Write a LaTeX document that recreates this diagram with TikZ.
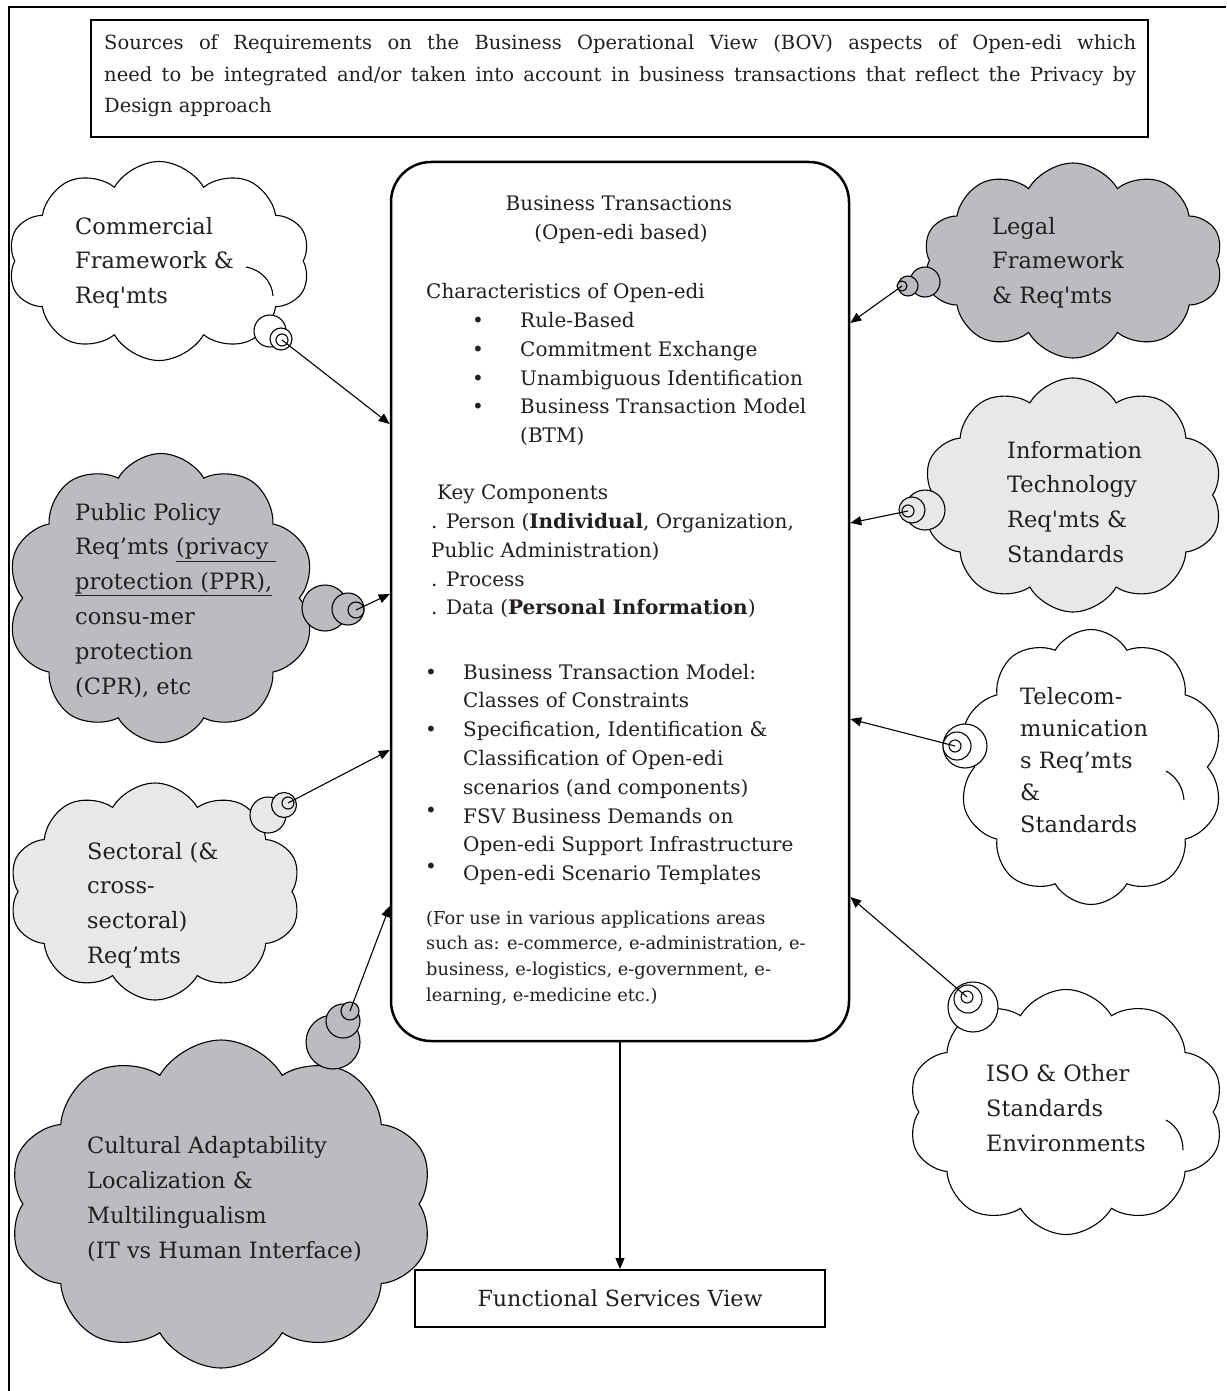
\documentclass[tikz,border=0pt]{standalone}
\usepackage{fontspec}
\setmainfont{DejaVu Serif}
\usetikzlibrary{shapes.symbols,arrows.meta}
\definecolor{dgray}{RGB}{187,188,191}
\definecolor{lgray}{RGB}{231,232,233}
\definecolor{ink}{RGB}{35,31,32}
\newcommand\fmain{\fontsize{20}{24}\selectfont}
\newcommand\fcloud{\fontsize{22.5}{27}\selectfont}
\newcommand\fsmall{\fontsize{17.8}{21}\selectfont}
\newcommand\ftop{\fontsize{19.5}{23}\selectfont}
\newcommand\ffsv{\fontsize{22.2}{26}\selectfont}
\begin{document}
\begin{tikzpicture}[x=1pt,y=-1pt,
  cl/.style={cloud, draw, line width=1.1pt, cloud puffs=10, cloud puff arc=120, cloud ignores aspect, inner sep=0pt},
  bub/.style={circle, draw, line width=1.1pt, inner sep=0pt},
  arr/.style={line width=1.1pt, -{Triangle[length=11pt,width=9pt]}},
  inarc/.style={line width=1.1pt},
  ct/.style={anchor=base west, inner sep=0pt, font=\fcloud, text=ink},
  mt/.style={anchor=base west, inner sep=0pt, font=\fmain, text=ink},
  st/.style={anchor=base west, inner sep=0pt, font=\fsmall, text=ink},
  tt/.style={anchor=base west, inner sep=0pt, font=\ftop, text=ink},
  bl/.style={anchor=base, inner sep=0pt, font=\fmain, text=ink}]
\useasboundingbox (0,0) rectangle (1226,1391);
\fill[white] (0,0) rectangle (1226,1391);
\draw[line width=1.3pt] (1226,7) -- (9,7) -- (9,1391);

% top box
\node[draw, line width=2pt, minimum width=1057pt, minimum height=117pt, inner sep=0pt] (topbox) at (619.5,78.5) {};
\node[tt] (top1) at (104,50) {\makebox[1032pt][s]{Sources of Requirements on the Business Operational View (BOV) aspects of Open-edi which}};
\node[tt] (top2) at (104,81.5) {\makebox[1032pt][s]{need to be integrated and/or taken into account in business transactions that reflect the Privacy by}};
\node[tt] (top3) at (104,113) {Design approach};

% central box
\node[draw, line width=2.5pt, rounded corners=40pt, minimum width=458pt, minimum height=879pt, inner sep=0pt] (bt) at (620,601.5) {};
\node[bl] (h1) at (619,210) {Business Transactions};
\node[bl] (h2) at (621,239) {(Open-edi based)};
\node[mt] (ch) at (426,298) {Characteristics of Open-edi};
\foreach \t/\y [count=\i] in {Rule-Based/327, Commitment Exchange/356, Unambiguous Identification/385, Business Transaction Model/413}{
  \node[bl] (cb\i) at (478,\y) {\textbullet};
  \node[mt] (ci\i) at (520,\y) {\t};
}
\node[mt] (ci5) at (520,442) {(BTM)};
\node[mt] (kc) at (437,499) {Key Components};
\node[mt] (k1) at (431,528) {. Person (\textbf{Individual}, Organization,};
\node[mt] (k2) at (431,557) {Public Administration)};
\node[mt] (k3) at (431,586) {. Process};
\node[mt] (k4) at (431,614) {. Data (\textbf{Personal Information})};
\foreach \t/\y [count=\i] in {Business Transaction Model:/679, Classes of Constraints/707, {Specification, Identification \&}/736, Classification of Open-edi/765, scenarios (and components)/794, FSV Business Demands on/823, Open-edi Support Infrastructure/851, Open-edi Scenario Templates/880}{
  \node[mt] (bi\i) at (463,\y) {\t};
}
\foreach \y [count=\i] in {679,736,817,873}{
  \node[bl] (bb\i) at (431,\y) {\textbullet};
}
\foreach \t/\y [count=\i] in {{(For use in various applications areas}/924, {such as: e-commerce, e-administration, e-}/949, {business, e-logistics, e-government, e-}/975, {learning, e-medicine etc.)}/1001}{
  \node[st] (sm\i) at (426,\y) {\t};
}

% FSV
\node[draw, line width=2pt, minimum width=410pt, minimum height=57pt, font=\ffsv, text=ink] (fsv) at (620,1298.5) {Functional Services View};
\draw[arr] (bt.south) -- (fsv.north);

% cloud 1 commercial
\node[cl, fill=white, minimum width=302pt, minimum height=199pt] (c1) at (159,261) {};
\draw[inarc] (246,267) .. controls (262,270) and (272,282) .. (273,296);
\node[bub, fill=white, minimum size=32pt] (b1a) at (270,331) {};
\node[bub, fill=white, minimum size=22pt] (b1b) at (281,339) {};
\node[bub, fill=white, minimum size=12pt] (b1c) at (282,340) {};
\draw[arr] (b1c.center) -- (bt.west |- 0,424);
\foreach \t [count=\i] in {Commercial, Framework \&, Req\textquotesingle mts}
  \node[ct] (t1\i) at (75,{234+(\i-1)*34.5}) {\t};

% cloud 2 public policy
\node[cl, fill=dgray, minimum width=308pt, minimum height=289pt] (c2) at (161,598) {};
\node[bub, fill=dgray, minimum size=46pt] (b2a) at (325,608) {};
\node[bub, fill=dgray, minimum size=32pt] (b2b) at (348,609) {};
\node[bub, fill=dgray, minimum size=16pt] (b2c) at (356,610) {};
\draw[arr] (b2c.center) -- (bt.west |- 0,594);
\foreach \t [count=\i] in {Public Policy, Req’mts \underline{(privacy }, {\underline{protection (PPR),}}, consu-mer, protection, {(CPR), etc}}
  \node[ct] (t2\i) at (75,{520+(\i-1)*34.8}) {\t};

% cloud 3 sectoral
\node[cl, fill=lgray, minimum width=292pt, minimum height=217pt] (c3) at (155,891.5) {};
\node[bub, fill=lgray, minimum size=36pt] (b3a) at (268,815) {};
\node[bub, fill=lgray, minimum size=25pt] (b3b) at (284,805) {};
\node[bub, fill=lgray, minimum size=12pt] (b3c) at (288,803) {};
\draw[arr] (b3c.center) -- (bt.west |- 0,750);
\foreach \t [count=\i] in {Sectoral (\&, cross-, sectoral), Req’mts}
  \node[ct] (t3\i) at (87,{859+(\i-1)*34.7}) {\t};

% cloud 4 cultural
\node[cl, fill=dgray, minimum width=425pt, minimum height=328pt] (c4) at (221,1204) {};
\node[bub, fill=dgray, minimum size=54pt] (b4a) at (333,1042) {};
\node[bub, fill=dgray, minimum size=34pt] (b4b) at (343,1021) {};
\node[bub, fill=dgray, minimum size=18pt] (b4c) at (350,1011) {};
\draw[arr] (b4c.center) -- (bt.west |- 0,906);
\foreach \t [count=\i] in {Cultural Adaptability, Localization \&, Multilingualism, {(IT vs Human Interface)}}
  \node[ct] (t4\i) at (87,{1153+(\i-1)*35}) {\t};

% cloud 5 legal
\node[cl, fill=dgray, minimum width=300pt, minimum height=195pt] (c5) at (1073,260.5) {};
\node[bub, fill=dgray, minimum size=30pt] (b5a) at (925,282) {};
\node[bub, fill=dgray, minimum size=20pt] (b5b) at (908,286) {};
\node[bub, fill=dgray, minimum size=10pt] (b5c) at (902,286) {};
\draw[arr] (b5c.center) -- (bt.east |- 0,323);
\foreach \t [count=\i] in {Legal, Framework, \& Req\textquotesingle mts}
  \node[ct] (t5\i) at (992,{234+(\i-1)*34.5}) {\t};

% cloud 6 IT
\node[cl, fill=lgray, minimum width=300pt, minimum height=234pt] (c6) at (1073,495) {};
\node[bub, fill=lgray, minimum size=40pt] (b6a) at (925,510) {};
\node[bub, fill=lgray, minimum size=26pt] (b6b) at (912,510) {};
\node[bub, fill=lgray, minimum size=12pt] (b6c) at (908,511) {};
\draw[arr] (b6c.center) -- (bt.east |- 0,523);
\foreach \t [count=\i] in {Information, Technology, Req\textquotesingle mts \&, Standards}
  \node[ct] (t6\i) at (1007,{458+(\i-1)*34.7}) {\t};

% cloud 7 telecom
\node[cl, fill=white, minimum width=265pt, minimum height=275pt] (c7) at (1091,767) {};
\draw[inarc] (1166,771) .. controls (1177,777) and (1183,788) .. (1184,800);
\node[bub, fill=white, minimum size=44pt] (b7a) at (965,746) {};
\node[bub, fill=white, minimum size=28pt] (b7b) at (957,746) {};
\node[bub, fill=white, minimum size=12pt] (b7c) at (955,746) {};
\draw[arr] (b7c.center) -- (bt.east |- 0,719);
\foreach \t [count=\i] in {Telecom-, munication, s Req’mts, \&, Standards}
  \node[ct] (t7\i) at (1020,{704+(\i-1)*32}) {\t};

% cloud 8 ISO
\node[cl, fill=white, minimum width=316pt, minimum height=245pt] (c8) at (1066,1112) {};
\draw[inarc] (1166,1120) .. controls (1177,1126) and (1183,1137) .. (1183,1150);
\node[bub, fill=white, minimum size=50pt] (b8a) at (973,1007) {};
\node[bub, fill=white, minimum size=28pt] (b8b) at (968,999) {};
\node[bub, fill=white, minimum size=12pt] (b8c) at (967,997) {};
\draw[arr] (b8c.center) -- (bt.east |- 0,897);
\foreach \t [count=\i] in {ISO \& Other, Standards, Environments}
  \node[ct] (t8\i) at (986,{1081+(\i-1)*35}) {\t};
\end{tikzpicture}
\end{document}
